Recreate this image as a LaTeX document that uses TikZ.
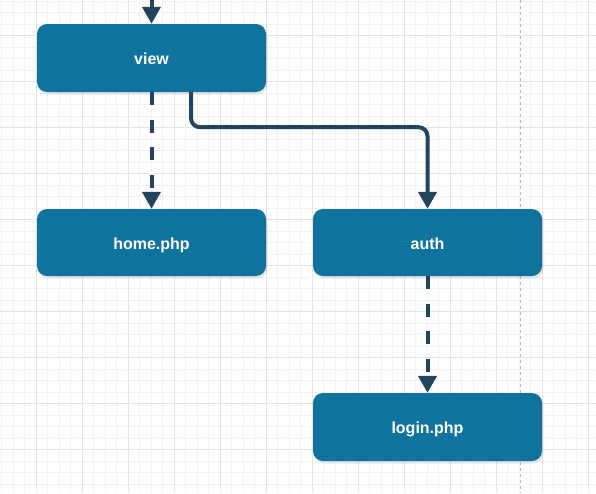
\documentclass[tikz,border=0pt]{standalone}
\usepackage{fontspec}
\setmainfont{Liberation Sans}
\usetikzlibrary{arrows.meta,shadows}
\definecolor{boxblue}{HTML}{10739E}
\definecolor{linenavy}{HTML}{23445D}
\definecolor{gridminor}{HTML}{F2F2F2}
\definecolor{gridmajor}{HTML}{E4E4E4}
\tikzset{
  box/.style={draw=none, fill=boxblue, rounded corners=10pt, minimum width=229pt, minimum height=68pt, inner sep=0pt, text=white, text height=13.6pt, text depth=0pt, font=\fontsize{16pt}{18pt}\selectfont\bfseries, drop shadow={opacity=0.18, shadow xshift=1.5pt, shadow yshift=-2.5pt}},
  conn/.style={draw=linenavy, line width=4pt, -{Triangle[length=17pt,width=18pt]}},
  dashconn/.style={conn, dash pattern=on 13pt off 14.5pt},
}
\begin{document}
\begin{tikzpicture}[x=1pt,y=-1pt]
\useasboundingbox (0,0) rectangle (596,493);
\fill[white] (0,0) rectangle (596,493);
% minor grid
\foreach \k in {0,...,51} { \draw[gridminor, line width=1pt] ({1.5+11.5*\k},0) -- ({1.5+11.5*\k},493); }
\foreach \k in {0,...,42} { \draw[gridminor, line width=1pt] (0,{1.2+11.5*\k}) -- (596,{1.2+11.5*\k}); }
% major grid
\foreach \k in {0,...,12} { \draw[gridmajor, line width=1pt] ({36+46*\k},0) -- ({36+46*\k},493); }
\foreach \k in {0,...,9} { \draw[gridmajor, line width=1pt] (0,{35.7+46*\k}) -- (596,{35.7+46*\k}); }
% dashed separator
\draw[gray!55, line width=0.8pt, dash pattern=on 3pt off 3pt] (520.7,0) -- (520.7,493);
% nodes
\node[box] (view) at (151.5,58) {view};
\node[box, minimum height=67pt] (home) at (151.5,242.5) {home.php};
\node[box, minimum height=67pt] (auth) at (427.5,242.5) {auth};
\node[box] (login) at (427.5,427) {login.php};
\coordinate (top) at (151.5,-2);
% connectors
\draw[conn] (top) -- (view.north);
\draw[dashconn] (view.south) -- (home.north);
\draw[conn, rounded corners=9pt] ([xshift=39.5pt]view.south) -- ++(0,35) -| (auth.north);
\draw[dashconn] (auth.south) -- (login.north);
\end{tikzpicture}
\end{document}
